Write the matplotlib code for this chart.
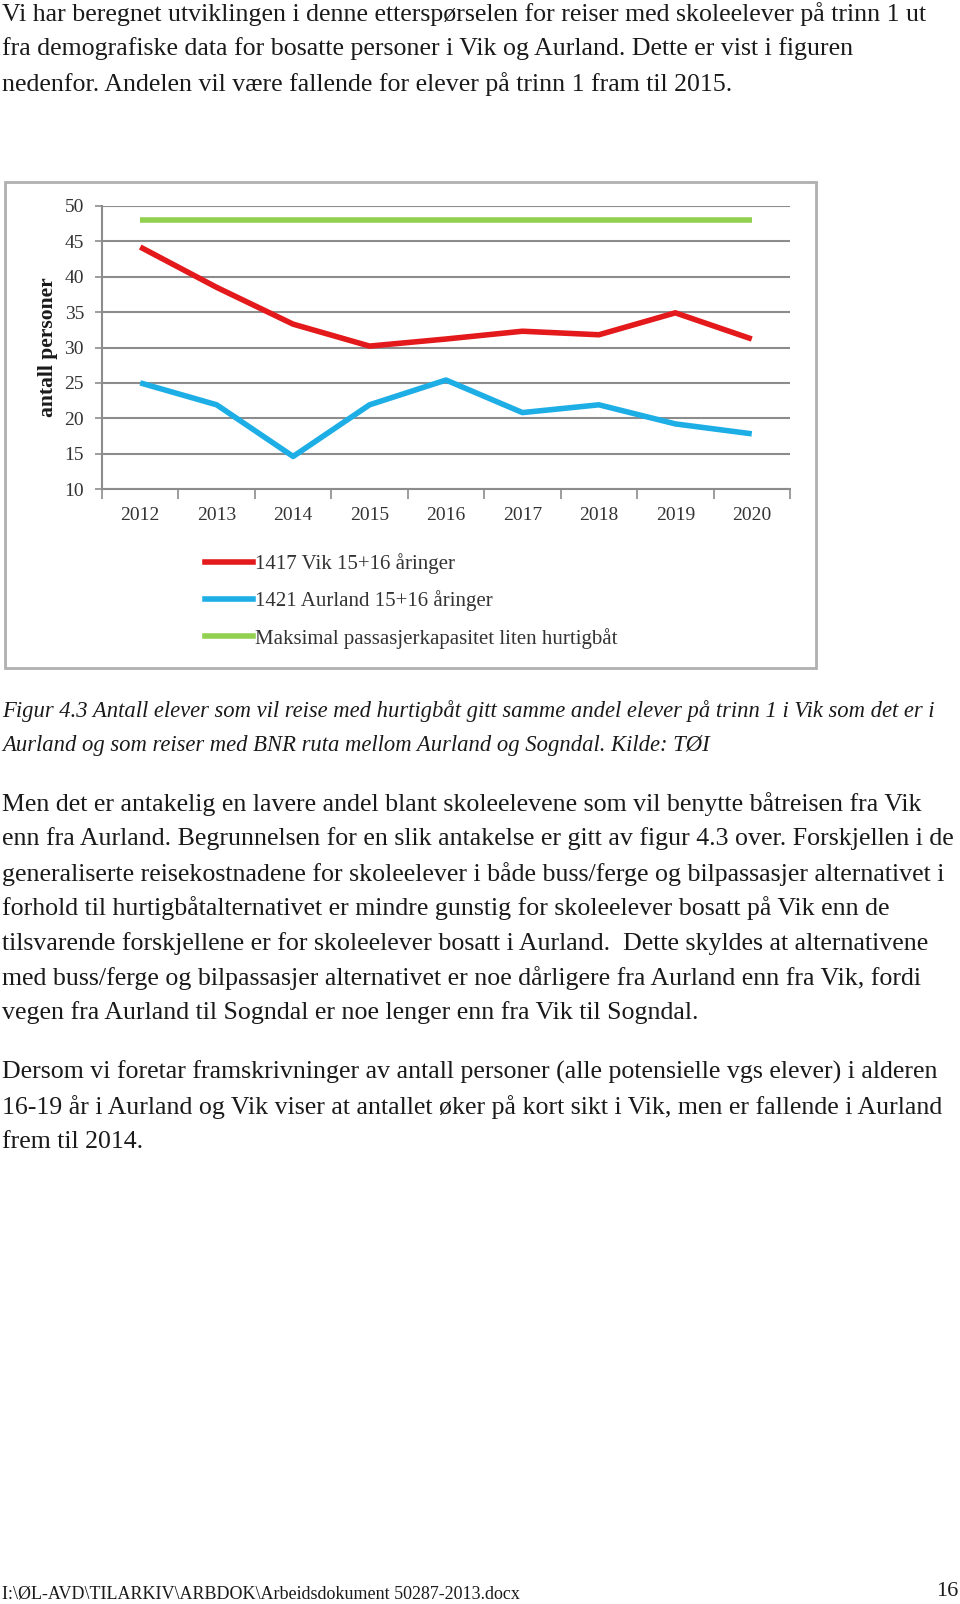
import numpy as np
import matplotlib.pyplot as plt
from matplotlib.patches import Rectangle
from matplotlib.lines import Line2D

# side-oppsett i piksler
W, H = 960, 1604
plt.rcParams['font.family'] = ['Liberation Serif', 'DejaVu Serif']

aar = ['2012', '2013', '2014', '2015', '2016', '2017', '2018', '2019', '2020']
vik = [44.2, 38.5, 33.3, 30.2, 31.2, 32.3, 31.8, 34.9, 31.2]
aurland = [25.0, 21.9, 14.6, 21.9, 25.4, 20.8, 21.9, 19.2, 17.8]
kapasitet = [48, 48, 48, 48, 48, 48, 48, 48, 48]
serienavn = ['1417 Vik 15+16 åringer', '1421 Aurland 15+16 åringer',
             'Maksimal passasjerkapasitet liten hurtigbåt']
farger = ['#e3191c', '#1eaee6', '#92d050']
yticks = [10, 15, 20, 25, 30, 35, 40, 45, 50]

tekst_over = [
    'Vi har beregnet utviklingen i denne etterspørselen for reiser med skoleelever på trinn 1 ut',
    'fra demografiske data for bosatte personer i Vik og Aurland. Dette er vist i figuren',
    'nedenfor. Andelen vil være fallende for elever på trinn 1 fram til 2015.',
]
figurtekst = [
    'Figur 4.3 Antall elever som vil reise med hurtigbåt gitt samme andel elever på trinn 1 i Vik som det er i',
    'Aurland og som reiser med BNR ruta mellom Aurland og Sogndal. Kilde: TØI',
]
avsnitt1 = [
    'Men det er antakelig en lavere andel blant skoleelevene som vil benytte båtreisen fra Vik',
    'enn fra Aurland. Begrunnelsen for en slik antakelse er gitt av figur 4.3 over. Forskjellen i de',
    'generaliserte reisekostnadene for skoleelever i både buss/ferge og bilpassasjer alternativet i',
    'forhold til hurtigbåtalternativet er mindre gunstig for skoleelever bosatt på Vik enn de',
    'tilsvarende forskjellene er for skoleelever bosatt i Aurland.  Dette skyldes at alternativene',
    'med buss/ferge og bilpassasjer alternativet er noe dårligere fra Aurland enn fra Vik, fordi',
    'vegen fra Aurland til Sogndal er noe lenger enn fra Vik til Sogndal.',
]
avsnitt2 = [
    'Dersom vi foretar framskrivninger av antall personer (alle potensielle vgs elever) i alderen',
    '16-19 år i Aurland og Vik viser at antallet øker på kort sikt i Vik, men er fallende i Aurland',
    'frem til 2014.',
]
bunntekst = 'I:\\ØL-AVD\\TILARKIV\\ARBDOK\\Arbeidsdokument 50287-2013.docx'
sidetall = '16'

fig = plt.figure(figsize=(W / 100, H / 100), dpi=100)
fig.patch.set_facecolor('white')


def fx(px):
    return px / W


def fy(py):
    return 1 - py / H


def skriv_linjer(linjer, y0, dy=34.8, size=18.6, **kw):
    for i, l in enumerate(linjer):
        fig.text(fx(2), fy(y0 + i * dy), l, va='center', ha='left',
                 fontsize=size, color='#1a1a1a', **kw)


skriv_linjer(tekst_over, 14)
skriv_linjer(figurtekst, 711, size=16.3, style='italic')
skriv_linjer(avsnitt1, 804)
skriv_linjer(avsnitt2, 1072)
fig.text(fx(2), fy(1594), bunntekst, va='center', ha='left', fontsize=13, color='#1a1a1a')
fig.text(fx(958), fy(1592), sidetall, va='center', ha='right', fontsize=16, color='#1a1a1a')

# ramme rundt diagrammet
fig.patches.append(Rectangle((fx(5), fy(668)), fx(816) - fx(5), fy(182) - fy(668),
                             transform=fig.transFigure, fill=False,
                             edgecolor='#b0b0b0', linewidth=2))

# diagram
ax = fig.add_axes([fx(102), fy(489), fx(790) - fx(102), fy(206) - fy(489)])
x = np.arange(len(aar))
for serie, farge in zip([vik, aurland, kapasitet], farger):
    ax.plot(x, serie, color=farge, linewidth=4, solid_capstyle='butt')

ax.set_xlim(-0.5, len(aar) - 0.5)
ax.set_ylim(10, 50)
ax.set_yticks(yticks)
ax.set_yticklabels([str(v) for v in yticks], fontsize=14, color='#333333')
ax.yaxis.grid(True, color='#8c8c8c', linewidth=1.5)
ax.set_axisbelow(True)
ax.tick_params(axis='y', length=5, width=1.2, color='#8c8c8c', pad=8)

ax.set_xticks(np.arange(-0.5, len(aar), 1.0))
ax.set_xticklabels([])
ax.set_xticks(x, minor=True)
ax.set_xticklabels(aar, minor=True, fontsize=14, color='#333333')
ax.tick_params(axis='x', which='major', length=7, width=1.2, color='#8c8c8c')
ax.tick_params(axis='x', which='minor', length=0, pad=13)

for s in ['top', 'right']:
    ax.spines[s].set_visible(False)
for s in ['left', 'bottom']:
    ax.spines[s].set_color('#8c8c8c')
    ax.spines[s].set_linewidth(1.5)

ax.set_ylabel('antall personer', fontsize=15.6, fontweight='bold', color='#1a1a1a')
ax.yaxis.set_label_coords((58 - 102) / (790 - 102), 0.5)

# forklaring
handles = [Line2D([0], [0], color=f, linewidth=4) for f in farger]
leg = fig.legend(handles, serienavn, loc='upper left',
                 bbox_to_anchor=(fx(197), fy(545)), frameon=False,
                 fontsize=15, handlelength=2.3, handletextpad=0.1,
                 labelspacing=0.78, borderaxespad=0)
for t in leg.get_texts():
    t.set_color('#333333')

fig.savefig('out.png', dpi=100)
